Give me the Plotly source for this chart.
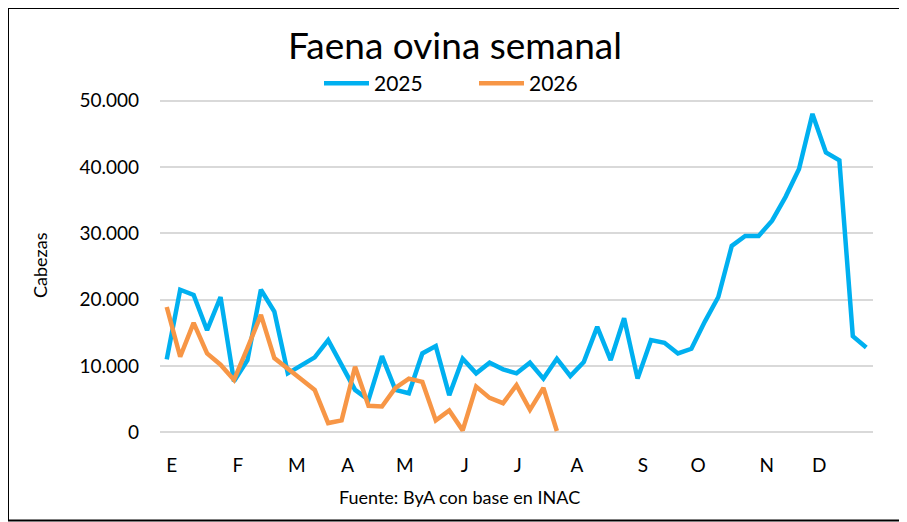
import plotly.graph_objects as go

# semanas (1..53) y faena por año
semanas = list(range(1, 54))

faena_2025 = [11000, 21500, 20700, 15400, 20400, 7700, 10900, 21500, 18200, 8900,
              10100, 11300, 13900, 10000, 6400, 4900, 11500, 6400, 5900, 11900,
              13000, 5600, 11100, 8900, 10500, 9500, 8900, 10500, 8100, 11100,
              8500, 10600, 15900, 10900, 17200, 8100, 13900, 13500, 11900, 12600,
              16700, 20400, 28100, 29600, 29600, 31900, 35500, 39700, 48000, 42200,
              41000, 14500, 12800]

faena_2026 = [18900, 11400, 16500, 11900, 10200, 7900, 12700, 17700, 11200, 9500,
              8000, 6400, 1400, 1800, 9900, 4000, 3900, 6700, 8100, 7600,
              1800, 3300, 300, 6900, 5200, 4400, 7100, 3400, 6700, 200]

meses = ["E", "F", "M", "A", "M", "J", "J", "A", "S", "O", "N", "D"]
# posicion de cada letra (en semanas) tal como aparece en el grafico original
pos_meses = [1.37, 6.28, 10.67, 14.46, 18.7, 23.16, 27.1, 31.5, 36.4, 40.5, 45.6, 49.5]

# la pagina deja 8px de margen en el body, asi que la figura es algo menor
OFF = 8
W, H = 907 - OFF, 522 - OFF
ML, MR, MT, MB = 152, 34, 86.4, 83.4
FONT = "Lato"

fig = go.Figure()

fig.add_trace(go.Scatter(
    x=semanas, y=faena_2025, name="2025", mode="lines",
    line=dict(color="#00B0F0", width=4.5)
))
fig.add_trace(go.Scatter(
    x=semanas[:len(faena_2026)], y=faena_2026, name="2026", mode="lines",
    line=dict(color="#F79646", width=4.5)
))

pw = W - ML - MR
ph = H - MT - MB


def px_x(px):
    return (px - ML) / pw


def px_y(py):
    return (H - MB - py) / ph


fig.update_layout(
    width=W, height=H,
    margin=dict(l=ML, r=MR, t=MT, b=MB),
    paper_bgcolor="white", plot_bgcolor="white",
    font=dict(family=FONT, color="black", size=19),
    separators=",.",
    title=dict(text="Faena ovina semanal", font=dict(size=37, family=FONT),
               xref="container", yref="container",
               x=447 / W, xanchor="center", y=1 - 38 / H, yanchor="middle"),
    legend=dict(orientation="h", xref="paper", yref="paper",
                x=px_x(466), xanchor="center", y=px_y(76), yanchor="middle",
                font=dict(size=21), itemwidth=45, entrywidth=95,
                bgcolor="rgba(0,0,0,0)"),
    showlegend=True,
)

fig.update_xaxes(
    range=[0.5, 53.5], tickvals=pos_meses, ticktext=meses,
    showgrid=False, zeroline=False, showline=False, ticks="",
    ticklabelstandoff=13, tickfont=dict(size=19), automargin=False
)
fig.update_yaxes(
    range=[-1000, 51000], tickvals=[0, 10000, 20000, 30000, 40000, 50000],
    tickformat=",.0f", showgrid=True, gridcolor="#d9d9d9", gridwidth=1.5,
    zeroline=False, showline=False, ticks="", ticklabelstandoff=20,
    tickfont=dict(size=19), automargin=False
)

# titulo del eje y
fig.add_annotation(text="Cabezas", textangle=-90, showarrow=False,
                   xref="paper", yref="paper", x=px_x(32), y=px_y(257),
                   xanchor="center", yanchor="middle", font=dict(size=18))
# fuente
fig.add_annotation(text="Fuente: ByA con base en INAC", showarrow=False,
                   xref="paper", yref="paper", x=px_x(451), y=px_y(488),
                   xanchor="center", yanchor="middle", font=dict(size=18))

# marco
fig.add_shape(type="rect", xref="paper", yref="paper",
              x0=px_x(0), x1=px_x(894), y0=px_y(512), y1=px_y(0.5),
              line=dict(color="black", width=2), layer="above")

fig.write_html("out.html")
